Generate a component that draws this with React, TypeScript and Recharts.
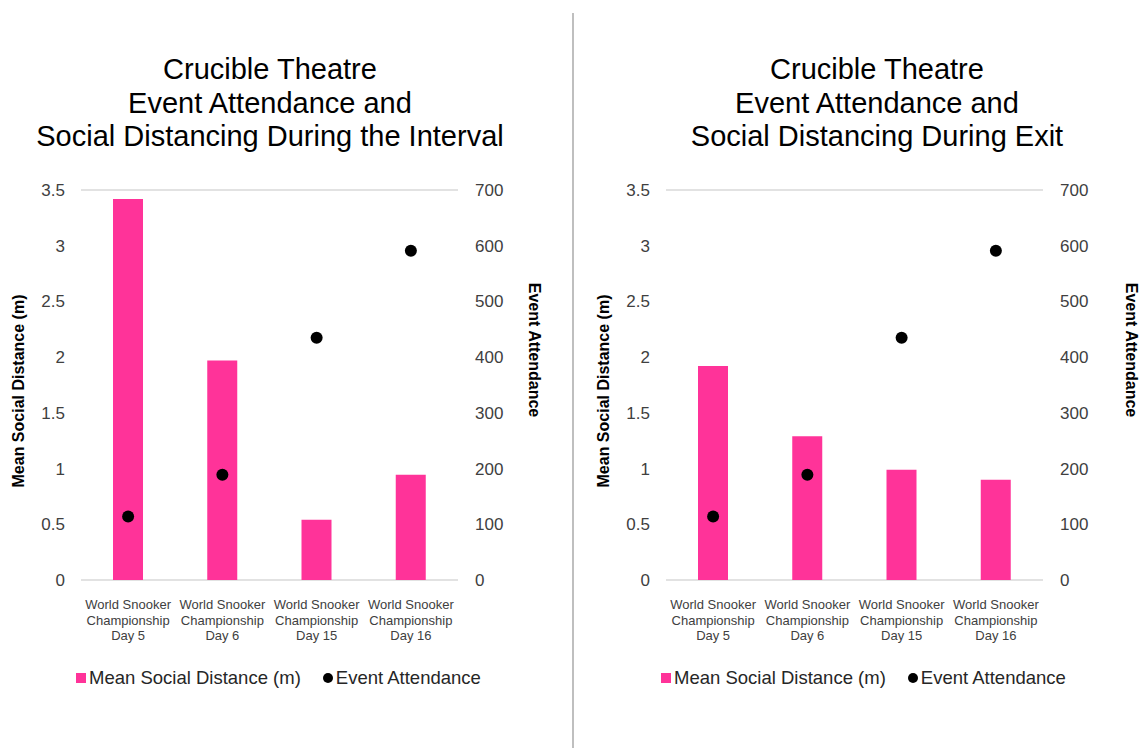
import React from "react";
import {
  Bar, CartesianGrid, ComposedChart, Label, Legend, Line, XAxis, YAxis,
} from "recharts";

// event days, shared by both panels
const categories = [
  "World Snooker Championship Day 5",
  "World Snooker Championship Day 6",
  "World Snooker Championship Day 15",
  "World Snooker Championship Day 16",
];

const attendance = [114, 189, 435, 591];
const intervalDistance = [3.42, 1.97, 0.54, 0.945];
const exitDistance = [1.92, 1.29, 0.99, 0.9];

const distanceTicks = [0, 0.5, 1, 1.5, 2, 2.5, 3, 3.5];
const attendanceTicks = [0, 100, 200, 300, 400, 500, 600, 700];

const PINK = "#FF3399";
const FONT = "'Liberation Sans', Arial, sans-serif";

function CategoryTick({ x, y, payload }: any) {
  const m = String(payload.value).match(/^(World Snooker) (Championship) (.*)$/);
  const lines = m ? [m[1], m[2], m[3]] : [String(payload.value)];
  return (
    <text x={x} y={y} textAnchor="middle" fontSize={13} fill="#404040" fontFamily={FONT}>
      {lines.map((l, i) => (
        <tspan key={i} x={x} dy={i === 0 ? 29 : 15.5}>{l}</tspan>
      ))}
    </text>
  );
}

function LegendRow() {
  return (
    <div style={{ display: "flex", justifyContent: "flex-start", alignItems: "center", height: 24, fontFamily: FONT, fontSize: 18.5, color: "#262626", paddingLeft: 76 }}>
      <span style={{ width: 10, height: 10, background: PINK, display: "inline-block", marginRight: 3 }} />
      <span>Mean Social Distance (m)</span>
      <span style={{ width: 10, height: 10, borderRadius: 5, background: "#000", display: "inline-block", marginLeft: 22, marginRight: 3 }} />
      <span>Event Attendance</span>
    </div>
  );
}

function Panel({ title, distance, left, titleWidth, rightLabelDx }: {
  title: string[]; distance: number[]; left: number; titleWidth: number; rightLabelDx: number;
}) {
  const data = categories.map((name, i) => ({ name, distance: distance[i], attendance: attendance[i] }));
  return (
    <div style={{ position: "absolute", left, top: 0, width: 570, height: 748 }}>
      <div style={{ position: "absolute", left: 0, top: 53, width: titleWidth, textAlign: "center", fontFamily: FONT, fontSize: 29, lineHeight: "33.5px", color: "#000", whiteSpace: "nowrap" }}>
        {title.map((t) => <div key={t}>{t}</div>)}
      </div>
      <ComposedChart
        width={570}
        height={748}
        data={data}
        margin={{ top: 190, right: 0, bottom: 58, left: 0 }}
        barSize={30}
        style={{ fontFamily: FONT }}
      >
        <CartesianGrid vertical={false} stroke="#d9d9d9" strokeWidth={1.5} />
        <XAxis
          dataKey="name"
          axisLine={false}
          tickLine={false}
          tickSize={0}
          tickMargin={0}
          height={86}
          interval={0}
          tick={<CategoryTick />}
        />
        <YAxis
          yAxisId="left"
          width={81}
          domain={[0, 3.5]}
          ticks={distanceTicks}
          axisLine={false}
          tickLine={false}
          tickSize={0}
          tickMargin={16}
          tick={{ fontSize: 17, fill: "#404040" }}
        >
          <Label value="Mean Social Distance (m)" angle={-90} position="center" dx={-22} dy={6}
            style={{ fontSize: 16, fontWeight: "bold", fill: "#000" }} />
        </YAxis>
        <YAxis
          yAxisId="right"
          orientation="right"
          width={112}
          domain={[0, 700]}
          ticks={attendanceTicks}
          axisLine={false}
          tickLine={false}
          tickSize={0}
          tickMargin={17}
          tick={{ fontSize: 17, fill: "#404040", textAnchor: "start" }}
        >
          <Label value="Event Attendance" angle={90} position="center" dx={rightLabelDx} dy={-35}
            style={{ fontSize: 16, fontWeight: "bold", fill: "#000" }} />
        </YAxis>
        <Bar yAxisId="left" dataKey="distance" fill={PINK} isAnimationActive={false} />
        <Line
          yAxisId="right"
          dataKey="attendance"
          stroke="none"
          dot={{ r: 6, fill: "#000", stroke: "none" }}
          activeDot={false}
          isAnimationActive={false}
        />
        <Legend verticalAlign="bottom" height={24} content={<LegendRow />} />
      </ComposedChart>
    </div>
  );
}

export default function App() {
  return (
    <div style={{ position: "absolute", left: 0, top: 0, width: 1141, height: 748, background: "#fff", overflow: "hidden" }}>
      <Panel
        left={0}
        titleWidth={540}
        rightLabelDx={21}
        distance={intervalDistance}
        title={["Crucible Theatre", "Event Attendance and", "Social Distancing During the Interval"]}
      />
      <div style={{ position: "absolute", left: 572, top: 13, width: 2, height: 735, background: "#bfbfbf" }} />
      <Panel
        left={585}
        titleWidth={584}
        rightLabelDx={33}
        distance={exitDistance}
        title={["Crucible Theatre", "Event Attendance and", "Social Distancing During Exit"]}
      />
    </div>
  );
}
